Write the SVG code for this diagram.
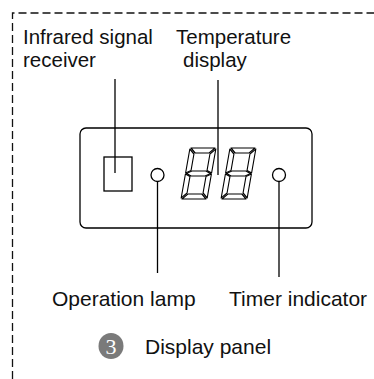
<svg xmlns="http://www.w3.org/2000/svg" width="374" height="379" viewBox="0 0 374 379">
<style>
.t{font-family:"Liberation Sans",Arial,sans-serif;font-size:21px;fill:#111}
.t2{font-size:20.5px}
.ln{stroke:#000;stroke-width:1.3;fill:none}
.seg{fill:#fff;stroke:#000;stroke-width:1.1;stroke-linejoin:round}
</style>
<defs>
<g id="digit">
<polygon class="seg" points="1,0 25,0 20,5 6,5"/>
<polygon class="seg" points="0,1 5,6 5,22.5 0,25"/>
<polygon class="seg" points="26,1 26,25 21,22.5 21,6"/>
<polygon class="seg" points="1,25.5 6,23 20,23 25,25.5 20,28 6,28"/>
<polygon class="seg" points="0,26 5,28.5 5,45 0,50"/>
<polygon class="seg" points="26,26 26,50 21,45 21,28.5"/>
<polygon class="seg" points="1,51 6,46 20,46 25,51"/>
</g>
</defs>
<path d="M12.5,379 V13 H374" fill="none" stroke="#111" stroke-width="1.3" stroke-dasharray="8,4"/>
<g id="panel">
<rect x="80" y="128" width="232" height="100" rx="6" class="ln" stroke-width="1.5"/>
</g>
<g id="receiver">
<rect x="104" y="157" width="28" height="34" class="ln"/>
</g>
<g id="operation-lamp">
<circle cx="157.5" cy="175" r="6.5" class="ln"/>
</g>
<g id="timer-lamp">
<circle cx="279" cy="175" r="6.5" class="ln"/>
</g>
<g id="temperature-display">
<use href="#digit" transform="translate(190,148) skewX(-10)"/>
<use href="#digit" transform="translate(230,148) skewX(-10)"/>
</g>
<g id="connectors">
<line x1="115" y1="79" x2="115" y2="173" class="ln"/>
<line x1="218" y1="80" x2="218" y2="175" class="ln"/>
<line x1="157.5" y1="181.5" x2="157.5" y2="273" class="ln"/>
<line x1="279" y1="181.5" x2="279" y2="277" class="ln"/>
</g>
<g id="labels">
<text class="t t2" x="23" y="44">Infrared signal</text>
<text class="t t2" x="23" y="67">receiver</text>
<text class="t t2" x="176" y="44">Temperature</text>
<text class="t t2" x="183" y="67">display</text>
<text class="t" x="52" y="306">Operation lamp</text>
<text class="t" x="229" y="306">Timer indicator</text>
</g>
<g id="caption">
<ellipse cx="111" cy="346" rx="12.5" ry="13" fill="#7a7a7a"/>
<text x="111" y="354" text-anchor="middle" style="font-family:'Liberation Serif',serif;font-size:22px;fill:#fff">3</text>
<text class="t" x="145" y="354">Display panel</text>
</g>
</svg>
